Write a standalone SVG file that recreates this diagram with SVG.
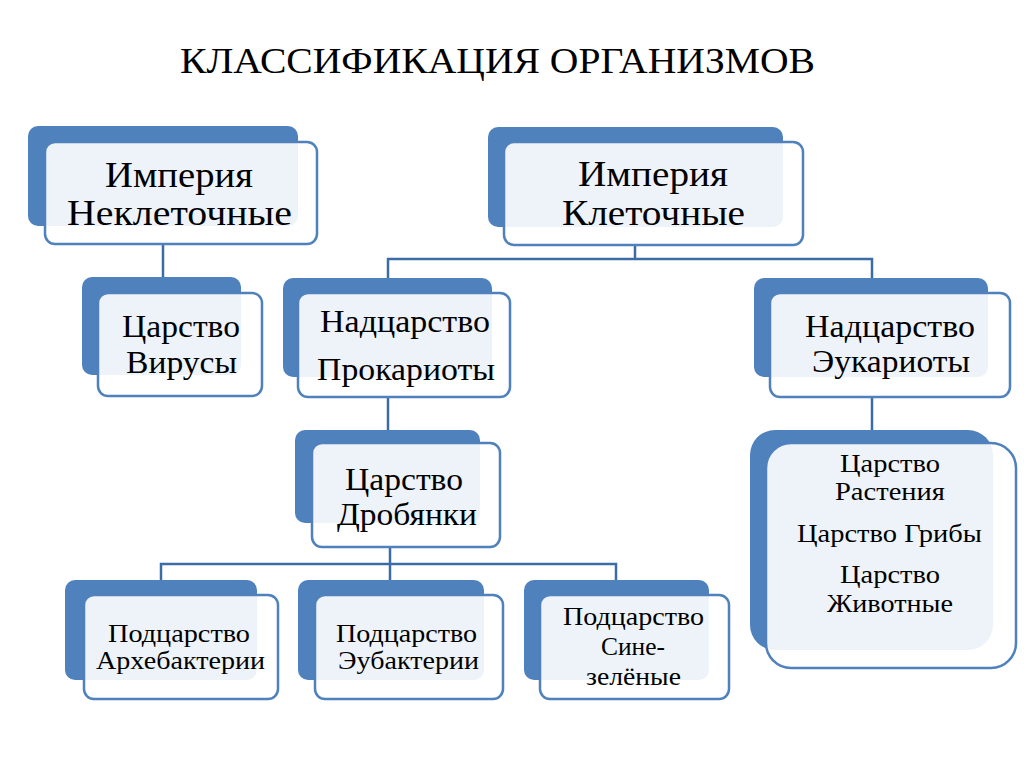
<svg xmlns="http://www.w3.org/2000/svg" width="1024" height="767" viewBox="0 0 1024 767">
<rect width="1024" height="767" fill="#ffffff"/>
<text x="180" y="73" font-family="Liberation Serif" font-size="35" textLength="635" lengthAdjust="spacingAndGlyphs">КЛАССИФИКАЦИЯ ОРГАНИЗМОВ</text>
<g id="connectors" fill="none" stroke="#3c6ca5" stroke-width="2.5">
<path d="M163 245V277"/>
<path d="M635 245V259M388 278V259H872V278"/>
<path d="M388 397V430"/>
<path d="M872 397V430"/>
<path d="M390 547V564M161 581V564H616V581M390 564V581"/>
</g>
<g id="n1">
<rect fill="#4f81bd" x="28" y="126" width="270" height="100" rx="10"/>
<rect fill="#ffffff" fill-opacity="0.9" stroke="#4f81bd" stroke-width="2.5" x="45" y="142" width="272" height="102" rx="10"/>
<text x="105" y="187" font-family="Liberation Serif" font-size="36" textLength="148" lengthAdjust="spacingAndGlyphs">Империя</text>
<text x="67" y="225" font-family="Liberation Serif" font-size="36" textLength="225" lengthAdjust="spacingAndGlyphs">Неклеточные</text>
</g>
<g id="n2">
<rect fill="#4f81bd" x="488" y="127" width="295" height="100" rx="10"/>
<rect fill="#ffffff" fill-opacity="0.9" stroke="#4f81bd" stroke-width="2.5" x="504" y="142" width="299" height="103" rx="10"/>
<text x="578" y="186" font-family="Liberation Serif" font-size="36" textLength="150" lengthAdjust="spacingAndGlyphs">Империя</text>
<text x="562" y="225" font-family="Liberation Serif" font-size="36" textLength="183" lengthAdjust="spacingAndGlyphs">Клеточные</text>
</g>
<g id="n3">
<rect fill="#4f81bd" x="82" y="277" width="159" height="98" rx="10"/>
<rect fill="#ffffff" fill-opacity="0.9" stroke="#4f81bd" stroke-width="2.5" x="98" y="293" width="164" height="103" rx="10"/>
<text x="122" y="337" font-family="Liberation Serif" font-size="32" textLength="118" lengthAdjust="spacingAndGlyphs">Царство</text>
<text x="126" y="373" font-family="Liberation Serif" font-size="32" textLength="111" lengthAdjust="spacingAndGlyphs">Вирусы</text>
</g>
<g id="n4">
<rect fill="#4f81bd" x="283" y="278" width="209" height="99" rx="10"/>
<rect fill="#ffffff" fill-opacity="0.9" stroke="#4f81bd" stroke-width="2.5" x="298" y="293" width="212" height="104" rx="10"/>
<text x="320" y="332" font-family="Liberation Serif" font-size="32" textLength="170" lengthAdjust="spacingAndGlyphs">Надцарство</text>
<text x="317" y="380" font-family="Liberation Serif" font-size="32" textLength="178" lengthAdjust="spacingAndGlyphs">Прокариоты</text>
</g>
<g id="n5">
<rect fill="#4f81bd" x="295" y="430" width="185" height="93" rx="10"/>
<rect fill="#ffffff" fill-opacity="0.9" stroke="#4f81bd" stroke-width="2.5" x="312" y="443" width="188" height="104" rx="10"/>
<text x="345" y="490" font-family="Liberation Serif" font-size="32" textLength="118" lengthAdjust="spacingAndGlyphs">Царство</text>
<text x="337" y="525" font-family="Liberation Serif" font-size="32" textLength="140" lengthAdjust="spacingAndGlyphs">Дробянки</text>
</g>
<g id="n6">
<rect fill="#4f81bd" x="754" y="278" width="234" height="99" rx="10"/>
<rect fill="#ffffff" fill-opacity="0.9" stroke="#4f81bd" stroke-width="2.5" x="770" y="293" width="240" height="104" rx="10"/>
<text x="805" y="337" font-family="Liberation Serif" font-size="32" textLength="170" lengthAdjust="spacingAndGlyphs">Надцарство</text>
<text x="812" y="372" font-family="Liberation Serif" font-size="32" textLength="158" lengthAdjust="spacingAndGlyphs">Эукариоты</text>
</g>
<g id="n7">
<rect fill="#4f81bd" x="750" y="430" width="243" height="220" rx="25"/>
<rect fill="#ffffff" fill-opacity="0.9" stroke="#4f81bd" stroke-width="2.5" x="766" y="443" width="250" height="225" rx="25"/>
<text x="840" y="472" font-family="Liberation Serif" font-size="26" textLength="100" lengthAdjust="spacingAndGlyphs">Царство</text>
<text x="835" y="500" font-family="Liberation Serif" font-size="26" textLength="110" lengthAdjust="spacingAndGlyphs">Растения</text>
<text x="797" y="542" font-family="Liberation Serif" font-size="26" textLength="185" lengthAdjust="spacingAndGlyphs">Царство Грибы</text>
<text x="840" y="583" font-family="Liberation Serif" font-size="26" textLength="100" lengthAdjust="spacingAndGlyphs">Царство</text>
<text x="827" y="612" font-family="Liberation Serif" font-size="26" textLength="126" lengthAdjust="spacingAndGlyphs">Животные</text>
</g>
<g id="n8">
<rect fill="#4f81bd" x="65" y="580" width="192" height="100" rx="10"/>
<rect fill="#ffffff" fill-opacity="0.9" stroke="#4f81bd" stroke-width="2.5" x="84" y="595" width="194" height="104" rx="10"/>
<text x="108" y="642" font-family="Liberation Serif" font-size="26" textLength="142" lengthAdjust="spacingAndGlyphs">Подцарство</text>
<text x="96" y="669" font-family="Liberation Serif" font-size="26" textLength="169" lengthAdjust="spacingAndGlyphs">Архебактерии</text>
</g>
<g id="n9">
<rect fill="#4f81bd" x="298" y="580" width="186" height="100" rx="10"/>
<rect fill="#ffffff" fill-opacity="0.9" stroke="#4f81bd" stroke-width="2.5" x="315" y="595" width="188" height="104" rx="10"/>
<text x="336" y="642" font-family="Liberation Serif" font-size="26" textLength="141" lengthAdjust="spacingAndGlyphs">Подцарство</text>
<text x="338" y="669" font-family="Liberation Serif" font-size="26" textLength="141" lengthAdjust="spacingAndGlyphs">Эубактерии</text>
</g>
<g id="n10">
<rect fill="#4f81bd" x="524" y="580" width="185" height="100" rx="10"/>
<rect fill="#ffffff" fill-opacity="0.9" stroke="#4f81bd" stroke-width="2.5" x="540" y="595" width="189" height="104" rx="10"/>
<text x="563" y="625" font-family="Liberation Serif" font-size="26" textLength="141" lengthAdjust="spacingAndGlyphs">Подцарство</text>
<text x="601" y="655" font-family="Liberation Serif" font-size="26" textLength="64" lengthAdjust="spacingAndGlyphs">Сине-</text>
<text x="586" y="685" font-family="Liberation Serif" font-size="26" textLength="95" lengthAdjust="spacingAndGlyphs">зелёные</text>
</g>
</svg>
